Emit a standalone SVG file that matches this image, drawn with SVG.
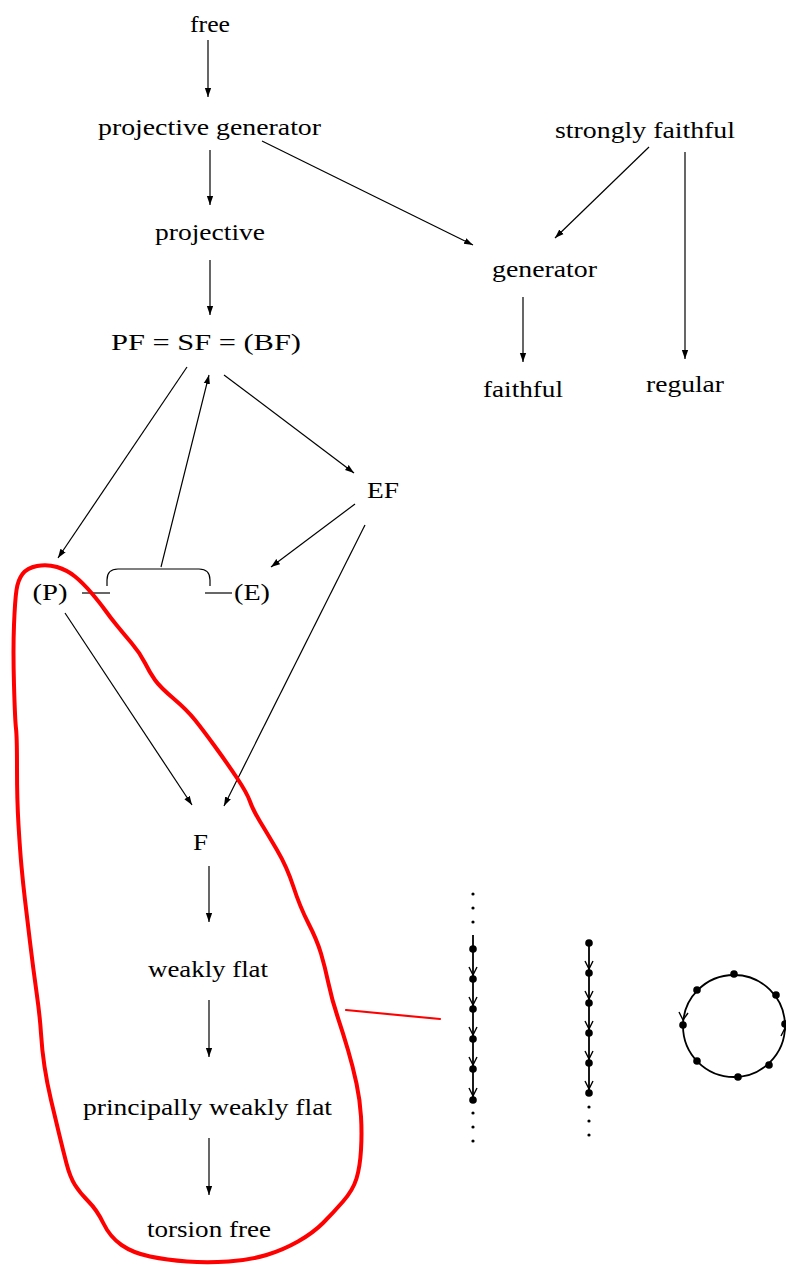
<svg xmlns="http://www.w3.org/2000/svg" width="786" height="1265" viewBox="0 0 786 1265">
<style>
text{font-family:"Liberation Serif","Times New Roman",serif;font-size:24px;fill:#000;text-anchor:middle}
.e{stroke:#000;stroke-width:1.2;fill:none}
.a{marker-end:url(#ah)}
.red{stroke:#f00;fill:none;stroke-linejoin:round;stroke-linecap:round}
.ch{stroke:#000;stroke-width:1.8;fill:none}
.v{stroke:#000;stroke-width:1.4;fill:none}
.nd{fill:#000}
</style>
<defs>
<marker id="ah" viewBox="0 0 10 10" refX="10" refY="5" markerWidth="9" markerHeight="9" markerUnits="userSpaceOnUse" orient="auto">
<path d="M0,1.5 L10,5 L0,8.5 Z" fill="#000"/>
</marker>
</defs>
<rect width="786" height="1265" fill="#fff"/>

<g id="connectors">
<line class="e a" x1="208" y1="40" x2="208" y2="97"/>
<line class="e a" x1="210" y1="150" x2="210" y2="205"/>
<line class="e a" x1="262" y1="141" x2="473" y2="245"/>
<line class="e a" x1="649" y1="147" x2="555" y2="238"/>
<line class="e a" x1="685" y1="152" x2="685" y2="359"/>
<line class="e a" x1="523" y1="297" x2="523" y2="362"/>
<line class="e a" x1="210" y1="260" x2="210" y2="315"/>
<line class="e a" x1="187" y1="367" x2="58" y2="558"/>
<line class="e a" x1="161" y1="567" x2="209" y2="375"/>
<line class="e a" x1="224" y1="375" x2="354" y2="473"/>
<line class="e a" x1="355" y1="504" x2="271" y2="567"/>
<line class="e a" x1="365" y1="525" x2="224" y2="806"/>
<line class="e a" x1="65" y1="613" x2="192" y2="805"/>
<line class="e a" x1="209" y1="866" x2="209" y2="922"/>
<line class="e a" x1="209" y1="1000" x2="209" y2="1057"/>
<line class="e a" x1="209" y1="1138" x2="209" y2="1195"/>
<path class="e" d="M107,586 L107,580 Q107,569 118,569 L199,569 Q210,569 210,580 L210,586"/>
<line class="e" x1="82" y1="593" x2="110" y2="593"/>
<line class="e" x1="205" y1="593" x2="232" y2="593"/>
</g>

<g id="n-free"><text x="210" y="32" textLength="40" lengthAdjust="spacingAndGlyphs">free</text></g>
<g id="n-projgen"><text x="209.5" y="135" textLength="223" lengthAdjust="spacingAndGlyphs">projective generator</text></g>
<g id="n-strong"><text x="645" y="138" textLength="180" lengthAdjust="spacingAndGlyphs">strongly faithful</text></g>
<g id="n-proj"><text x="210" y="240" textLength="110" lengthAdjust="spacingAndGlyphs">projective</text></g>
<g id="n-gen"><text x="544.5" y="277" textLength="105" lengthAdjust="spacingAndGlyphs">generator</text></g>
<g id="n-faithful"><text x="523" y="397" textLength="80" lengthAdjust="spacingAndGlyphs">faithful</text></g>
<g id="n-regular"><text x="685" y="392" textLength="78" lengthAdjust="spacingAndGlyphs">regular</text></g>
<g id="n-pf"><text x="206" y="350" textLength="190" lengthAdjust="spacingAndGlyphs">PF = SF = (BF)</text></g>
<g id="n-ef"><text x="383" y="498" textLength="32" lengthAdjust="spacingAndGlyphs">EF</text></g>
<g id="n-p"><text x="50" y="600" textLength="35" lengthAdjust="spacingAndGlyphs">(P)</text></g>
<g id="n-e"><text x="252" y="600" textLength="36" lengthAdjust="spacingAndGlyphs">(E)</text></g>
<g id="n-f"><text x="200.5" y="850" textLength="15" lengthAdjust="spacingAndGlyphs">F</text></g>
<g id="n-wf"><text x="208" y="977" textLength="120" lengthAdjust="spacingAndGlyphs">weakly flat</text></g>
<g id="n-pwf"><text x="207.5" y="1115" textLength="249" lengthAdjust="spacingAndGlyphs">principally weakly flat</text></g>
<g id="n-tf"><text x="209" y="1237" textLength="124" lengthAdjust="spacingAndGlyphs">torsion free</text></g>

<g id="highlight">
<path class="red" stroke-width="4" d="M18.5,825 Q17,800 17,768.5 Q17,737 16,728.5 Q15,720 14,685 Q13,650 14,625 Q15,600 16.5,590 Q18,580 22.5,574 Q27,568 37,566 Q47,564 57,567 Q67,570 75,576.5 Q83,583 91.5,593 Q100,603 105,610 Q110,617 116.5,625 Q123,633 131.5,643 Q140,653 145,663 Q150,673 155,680 Q160,687 173.5,698.5 Q187,710 195,720 Q203,730 215,746.5 Q227,763 237,778 Q247,793 250,801.5 Q253,810 260,821.5 Q267,833 277,850 Q287,867 293.5,887 Q300,907 308.5,923.5 Q317,940 321,953.5 Q325,967 328.5,983.5 Q332,1000 337.5,1016.5 Q343,1033 348,1050 Q353,1067 356.5,1083.5 Q360,1100 361,1116.5 Q362,1133 361,1150 Q360,1167 356.5,1178.5 Q353,1190 343,1201.5 Q333,1213 323,1223 Q313,1233 298,1241.5 Q283,1250 266.5,1255 Q250,1260 228.5,1261.5 Q207,1263 187,1261.5 Q167,1260 150,1256.5 Q133,1253 121.5,1245 Q110,1237 103.5,1223.5 Q97,1210 88.5,1201.5 Q80,1193 75,1185 Q70,1177 66.5,1163.5 Q63,1150 59,1133.5 Q55,1117 51,1100 Q47,1083 44.5,1066.5 Q42,1050 41,1033.5 Q40,1017 36.5,992 Q33,967 30,942 Q27,917 25,900 Q23,883 21.5,866.5 Q20,850 18.5,825 Z"/>
<line class="red" stroke-width="2.2" x1="346" y1="1010" x2="440" y2="1019"/>
</g>

<g id="chain1">
<circle class="nd" cx="473" cy="894" r="1.6"/><circle class="nd" cx="473" cy="908" r="1.6"/><circle class="nd" cx="473" cy="922" r="1.6"/>
<line class="ch" x1="473" y1="935" x2="473" y2="1100"/>
<circle class="nd" cx="473" cy="949" r="3.8"/><circle class="nd" cx="473" cy="979" r="3.8"/><circle class="nd" cx="473" cy="1009" r="3.8"/><circle class="nd" cx="473" cy="1039" r="3.8"/><circle class="nd" cx="473" cy="1069" r="3.8"/><circle class="nd" cx="473" cy="1100" r="3.8"/>
<path class="v" d="M469,967 L473,975 L477,967 M469,997 L473,1005 L477,997 M469,1027 L473,1035 L477,1027 M469,1057 L473,1065 L477,1057 M469,1088 L473,1096 L477,1088"/>
<circle class="nd" cx="473" cy="1113" r="1.6"/><circle class="nd" cx="473" cy="1127" r="1.6"/><circle class="nd" cx="473" cy="1141" r="1.6"/>
</g>

<g id="chain2">
<line class="ch" x1="589" y1="943" x2="589" y2="1093"/>
<circle class="nd" cx="589" cy="943" r="3.8"/><circle class="nd" cx="589" cy="973" r="3.8"/><circle class="nd" cx="589" cy="1003" r="3.8"/><circle class="nd" cx="589" cy="1033" r="3.8"/><circle class="nd" cx="589" cy="1063" r="3.8"/><circle class="nd" cx="589" cy="1093" r="3.8"/>
<path class="v" d="M585,961 L589,969 L593,961 M585,991 L589,999 L593,991 M585,1021 L589,1029 L593,1021 M585,1051 L589,1059 L593,1051 M585,1081 L589,1089 L593,1081"/>
<circle class="nd" cx="589" cy="1107" r="1.6"/><circle class="nd" cx="589" cy="1121" r="1.6"/><circle class="nd" cx="589" cy="1135" r="1.6"/>
</g>

<g id="cycle">
<circle class="ch" cx="734" cy="1026" r="51"/>
<circle class="nd" cx="734" cy="974" r="3.8"/>
<circle class="nd" cx="697" cy="990" r="3.8"/>
<circle class="nd" cx="776" cy="995" r="3.8"/>
<circle class="nd" cx="683" cy="1025" r="3.8"/>
<circle class="nd" cx="785" cy="1024" r="3.8"/>
<circle class="nd" cx="697" cy="1061" r="3.8"/>
<circle class="nd" cx="738" cy="1077" r="3.8"/>
<circle class="nd" cx="769" cy="1065" r="3.8"/>
<path class="v" d="M679,1012 L683,1020 L688,1013 M781,1036 L785,1028 L789,1036"/>
</g>
</svg>
